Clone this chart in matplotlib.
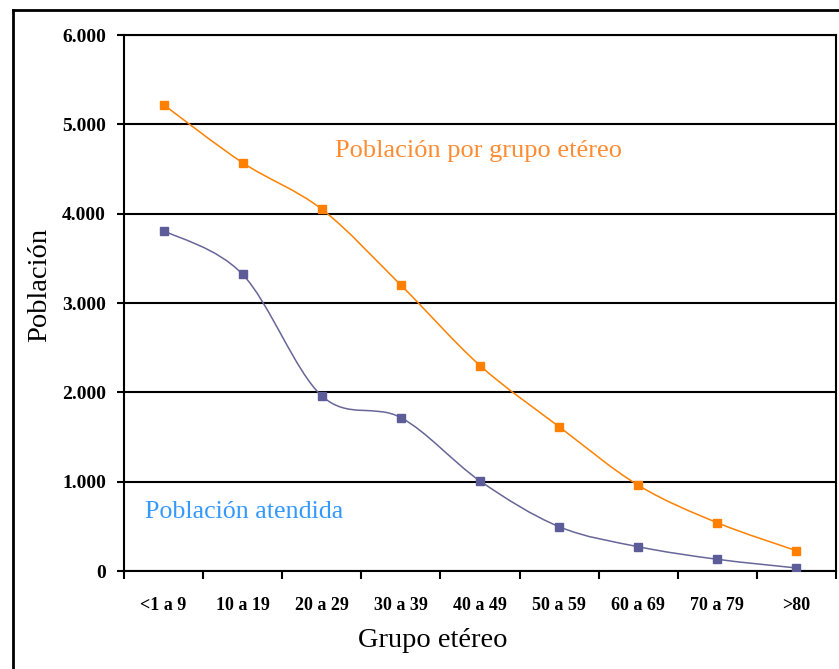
import matplotlib
matplotlib.use("Agg")
import matplotlib.pyplot as plt
from matplotlib.path import Path
import matplotlib.patches as patches
from matplotlib.lines import Line2D

plt.rcParams['font.family'] = ['Liberation Serif', 'DejaVu Serif']

# data
grupos = ['<1 a 9', '10 a 19', '20 a 29', '30 a 39', '40 a 49',
          '50 a 59', '60 a 69', '70 a 79', '>80']
poblacion_total = [5220, 4570, 4050, 3200, 2300, 1615, 960, 540, 227]
poblacion_atendida = [3810, 3320, 1960, 1717, 1008, 496, 272, 131, 34]
y_ticks = [0, 1000, 2000, 3000, 4000, 5000, 6000]
y_labels = ['0', '1.000', '2.000', '3.000', '4.000', '5.000', '6.000']

orange = '#FF8000'
blue_line = '#666699'


def smooth_path(xs, ys):
    # excel style smoothed line: cubic bezier through each point
    pts = list(zip(xs, ys))
    verts = [pts[0]]
    codes = [Path.MOVETO]
    n = len(pts)
    for i in range(n - 1):
        p0 = pts[i - 1] if i > 0 else pts[i]
        p1 = pts[i]
        p2 = pts[i + 1]
        p3 = pts[i + 2] if i + 2 < n else pts[i + 1]
        c1 = (p1[0] + (p2[0] - p0[0]) / 6, p1[1] + (p2[1] - p0[1]) / 6)
        c2 = (p2[0] - (p3[0] - p1[0]) / 6, p2[1] - (p3[1] - p1[1]) / 6)
        verts += [c1, c2, p2]
        codes += [Path.CURVE4] * 3
    return Path(verts, codes)


fig = plt.figure(figsize=(8.39, 6.69), dpi=100)
ax = fig.add_axes([124 / 839, 1 - 571 / 669, (836 - 124) / 839, (571 - 35) / 669])

x = list(range(len(grupos)))
for vals, col, mcol in [(poblacion_total, orange, orange),
                        (poblacion_atendida, blue_line, '#5C5C99')]:
    ax.add_patch(patches.PathPatch(smooth_path(x, vals), facecolor='none',
                                   edgecolor=col, lw=1.1, zorder=3))
    ax.plot(x, vals, ls='none', marker='s', ms=6, color=mcol, zorder=4)

ax.set_xlim(-0.5, len(grupos) - 0.5)
ax.set_ylim(0, 6000)
ax.set_yticks(y_ticks)
ax.set_yticklabels(y_labels, fontweight='bold', fontsize=14)
ax.set_xticks(x)
ax.set_xticklabels(grupos, fontweight='bold', fontsize=13)
ax.set_xticks([i - 0.5 for i in range(len(grupos) + 1)], minor=True)
ax.tick_params(axis='x', which='major', length=0, pad=19)
ax.tick_params(axis='x', which='minor', length=6, width=1.5, direction='out')
ax.tick_params(axis='y', length=5, width=1.5, direction='out', pad=8)
ax.grid(axis='y', color='black', lw=1.5)
ax.set_axisbelow(True)
for s in ax.spines.values():
    s.set_linewidth(1.5)
    s.set_color('black')

ax.set_ylabel('Población', fontsize=20.5)
ax.yaxis.set_label_coords(-0.101, 0.534)
ax.set_xlabel('Grupo etéreo', fontsize=20.5)
ax.xaxis.set_label_coords(0.434, -0.106)

ax.text(3.98, 4700, 'Población por grupo etéreo', color='#FF8C33', fontsize=19,
        ha='center', va='center')
ax.text(-0.23, 660, 'Población atendida', color='#3399FF', fontsize=18.7,
        ha='left', va='center')

# outer chart frame
fig.add_artist(Line2D([13 / 839, 13 / 839], [0, 1 - 10 / 669], color='black', lw=2))
fig.add_artist(Line2D([13 / 839, 1], [1 - 10 / 669, 1 - 10 / 669], color='black', lw=2))

fig.savefig('out.png', dpi=100)
